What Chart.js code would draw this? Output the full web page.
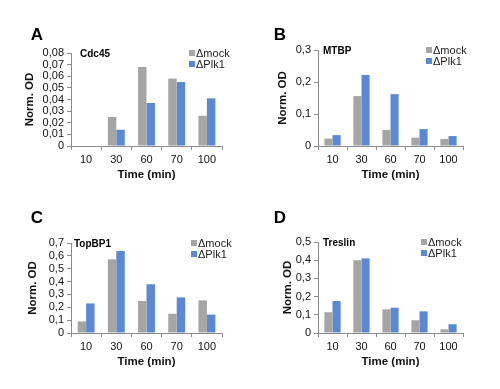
<!DOCTYPE html>
<html>
<head>
<meta charset="utf-8">
<script src="https://cdn.jsdelivr.net/npm/chart.js@4"></script>
<style>
  html, body { margin: 0; padding: 0; background: #fff; }
  #wrap { position: relative; width: 500px; height: 389px; }
  canvas { position: absolute; }
</style>
</head>
<body>
<div id="wrap">
  <canvas id="chartA" width="250" height="195" style="left:0;top:0"></canvas>
  <canvas id="chartB" width="250" height="195" style="left:250px;top:0"></canvas>
  <canvas id="chartC" width="250" height="194" style="left:0;top:195px"></canvas>
  <canvas id="chartD" width="250" height="194" style="left:250px;top:195px"></canvas>
</div>
<script>
const times = ['10', '30', '60', '70', '100'];
const seriesNames = ['\u0394mock', '\u0394Plk1'];

const cdc45Mock = [0, 0.025, 0.068, 0.058, 0.026];
const cdc45Plk1 = [0, 0.014, 0.037, 0.055, 0.041];

const mtbpMock = [0.023, 0.156, 0.050, 0.026, 0.022];
const mtbpPlk1 = [0.034, 0.222, 0.162, 0.053, 0.031];

const topbp1Mock = [0.09, 0.573, 0.249, 0.150, 0.254];
const topbp1Plk1 = [0.23, 0.638, 0.379, 0.277, 0.143];

const treslinMock = [0.114, 0.400, 0.130, 0.070, 0.020];
const treslinPlk1 = [0.176, 0.410, 0.139, 0.119, 0.048];

const grey = '#a5a5a5';
const blue = '#5b88d6';
const axisColor = '#8c8c8c';
const font = "'Liberation Sans', Arial, sans-serif";

// panel letter, protein name and small legend drawn on the canvas
const panelText = {
    id: 'panelText',
    afterDraw(chart, args, opts) {
        const ctx = chart.ctx;
        const area = chart.chartArea;
        ctx.save();
        ctx.fillStyle = '#000';
        ctx.font = 'bold 17px ' + font;
        ctx.textAlign = 'center';
        ctx.textBaseline = 'middle';
        ctx.fillText(opts.letter, opts.letterX, opts.letterY);

        ctx.font = 'bold 10px ' + font;
        ctx.textAlign = 'left';
        ctx.fillText(opts.name, area.left + opts.nameDx, area.top + 1);

        ctx.font = '11px ' + font;
        chart.data.datasets.forEach((ds, i) => {
            const y = area.top + opts.legendDy + i * 11;
            const x = area.right - opts.legendDx;
            ctx.fillStyle = ds.backgroundColor;
            ctx.fillRect(x, y - 3, 6, 6);
            ctx.fillStyle = '#222';
            ctx.fillText(ds.label, x + 7, y + 1);
        });
        ctx.restore();
    }
};

function makePanel(canvasId, p) {
    const H = document.getElementById(canvasId).height;
    const xAxisH = 40;
    new Chart(document.getElementById(canvasId).getContext('2d'), {
        type: 'bar',
        data: {
            labels: times,
            datasets: [
                { label: seriesNames[0], data: p.mock, backgroundColor: grey },
                { label: seriesNames[1], data: p.plk, backgroundColor: blue }
            ]
        },
        options: {
            responsive: false,
            animation: false,
            devicePixelRatio: 1,
            layout: {
                padding: {
                    left: p.titleX - 10.6,
                    top: p.top,
                    right: 250 - p.right,
                    bottom: H - p.bottom - xAxisH
                }
            },
            datasets: {
                bar: { categoryPercentage: 0.56, barPercentage: 1.0 }
            },
            scales: {
                x: {
                    afterFit(scale) { scale.height = xAxisH; },
                    border: { color: axisColor, width: 1 },
                    grid: { display: true, drawOnChartArea: false, offset: true, tickLength: 4, color: axisColor },
                    ticks: { color: '#111', padding: 3, autoSkip: false, maxRotation: 0, font: { family: font, size: 11 } },
                    title: { display: true, text: 'Time (min)', color: '#111', font: { family: font, size: 11.5, weight: 'bold' }, padding: 4 }
                },
                y: {
                    min: 0,
                    max: p.max,
                    afterFit(scale) { scale.width = p.left - (p.titleX - 10.6); },
                    border: { color: axisColor, width: 1 },
                    grid: { display: true, drawOnChartArea: false, tickLength: 4, color: axisColor },
                    ticks: {
                        stepSize: p.step,
                        autoSkip: false,
                        color: '#111',
                        padding: 3,
                        font: { family: font, size: 11 },
                        callback: v => v === 0 ? '0' : v.toFixed(p.decimals).replace('.', ',')
                    },
                    title: { display: true, text: 'Norm. OD', color: '#111', font: { family: font, size: 11.5, weight: 'bold' }, padding: 4 }
                }
            },
            plugins: {
                legend: { display: false },
                tooltip: { enabled: false },
                panelText: {
                    letter: p.letter, letterX: p.letterX, letterY: p.letterY,
                    name: p.name, nameDx: p.nameDx,
                    legendDx: p.legendDx, legendDy: 0
                }
            }
        },
        plugins: [panelText]
    });
}

makePanel('chartA', {
    letter: 'A', letterX: 37, letterY: 35, name: 'Cdc45', nameDx: 9,
    mock: cdc45Mock, plk: cdc45Plk1, max: 0.08, step: 0.01, decimals: 2,
    left: 71, right: 222, top: 53, bottom: 146, titleX: 30, legendDx: 33
});
makePanel('chartB', {
    letter: 'B', letterX: 30, letterY: 35, name: 'MTBP', nameDx: 5,
    mock: mtbpMock, plk: mtbpPlk1, max: 0.3, step: 0.1, decimals: 1,
    left: 68, right: 213, top: 50, bottom: 146, titleX: 33, legendDx: 37
});
makePanel('chartC', {
    letter: 'C', letterX: 37, letterY: 23, name: 'TopBP1', nameDx: 3,
    mock: topbp1Mock, plk: topbp1Plk1, max: 0.7, step: 0.1, decimals: 1,
    left: 71, right: 222, top: 48, bottom: 138, titleX: 33, legendDx: 31
});
makePanel('chartD', {
    letter: 'D', letterX: 30, letterY: 23, name: 'Treslin', nameDx: 5,
    mock: treslinMock, plk: treslinPlk1, max: 0.5, step: 0.1, decimals: 1,
    left: 68, right: 213, top: 47, bottom: 138, titleX: 38, legendDx: 42
});
</script>
</body>
</html>
